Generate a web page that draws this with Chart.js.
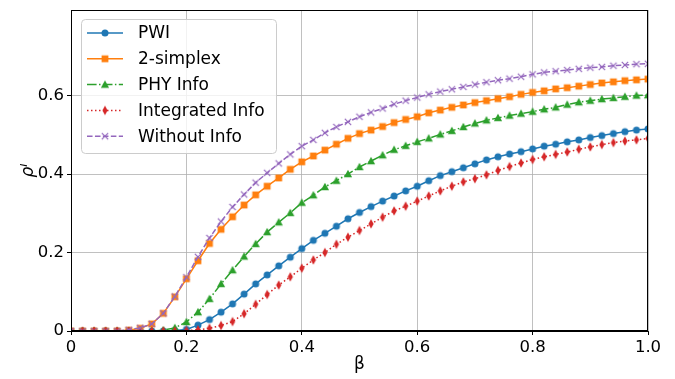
<!DOCTYPE html>
<html><head><meta charset="utf-8">
<script src="https://cdn.jsdelivr.net/npm/chart.js@4/dist/chart.umd.min.js"></script>
<style>html,body{margin:0;padding:0;background:#fff}#wrap{width:675px;height:379px}</style>
</head><body><div id="wrap"><canvas id="c" width="675" height="379"></canvas></div>
<script>
const beta = [0,0.02,0.04,0.06,0.08,0.10,0.12,0.14,0.16,0.18,0.20,0.22,0.24,0.26,0.28,0.30,0.32,0.34,0.36,0.38,0.40,0.42,0.44,0.46,0.48,0.50,0.52,0.54,0.56,0.58,0.60,0.62,0.64,0.66,0.68,0.70,0.72,0.74,0.76,0.78,0.80,0.82,0.84,0.86,0.88,0.90,0.92,0.94,0.96,0.98,1.00];
const pwi = [0,0,0,0,0,0,0,0,0,0.001,0.004,0.015,0.029,0.048,0.069,0.094,0.120,0.143,0.166,0.188,0.210,0.231,0.249,0.267,0.286,0.302,0.317,0.331,0.344,0.357,0.369,0.383,0.396,0.406,0.416,0.426,0.436,0.444,0.451,0.457,0.464,0.471,0.476,0.482,0.487,0.493,0.498,0.503,0.508,0.512,0.515];
const simplex2 = [0,0,0,0,0,0.002,0.007,0.018,0.045,0.087,0.133,0.179,0.223,0.259,0.291,0.321,0.347,0.369,0.390,0.412,0.431,0.446,0.461,0.476,0.491,0.503,0.512,0.521,0.531,0.539,0.546,0.556,0.563,0.570,0.576,0.582,0.587,0.592,0.597,0.603,0.608,0.612,0.617,0.620,0.624,0.628,0.632,0.635,0.638,0.640,0.642];
const phyInfo = [0,0,0,0,0,0,0,0,0.002,0.008,0.023,0.048,0.082,0.120,0.155,0.190,0.222,0.252,0.277,0.301,0.327,0.346,0.367,0.383,0.400,0.418,0.433,0.448,0.462,0.472,0.482,0.491,0.501,0.510,0.520,0.529,0.537,0.543,0.549,0.554,0.559,0.565,0.570,0.577,0.583,0.587,0.591,0.594,0.597,0.600,0.601];
const integratedInfo = [0,0,0,0,0,0,0,0,0,0,0.001,0.003,0.007,0.014,0.024,0.044,0.068,0.093,0.117,0.138,0.160,0.181,0.200,0.221,0.239,0.256,0.273,0.290,0.306,0.318,0.331,0.344,0.357,0.369,0.380,0.388,0.398,0.409,0.419,0.428,0.437,0.444,0.450,0.456,0.463,0.469,0.475,0.480,0.484,0.487,0.491];
const withoutInfo = [0,0,0,0,0,0.003,0.008,0.018,0.045,0.088,0.137,0.189,0.237,0.279,0.316,0.348,0.378,0.403,0.427,0.450,0.471,0.487,0.505,0.520,0.533,0.546,0.557,0.567,0.578,0.587,0.595,0.603,0.610,0.616,0.622,0.628,0.634,0.639,0.643,0.648,0.654,0.659,0.662,0.665,0.668,0.671,0.673,0.676,0.678,0.680,0.681];
const seriesNames = ['PWI','2-simplex','PHY Info','Integrated Info','Without Info'];
const xTickValues = [0,0.2,0.4,0.6,0.8,1.0];
const xTickLabels = ['0','0.2','0.4','0.6','0.8','1.0'];
const yTickValues = [0,0.2,0.4,0.6];
const yTickLabels = ['0','0.2','0.4','0.6'];

const FONT = "'DejaVu Sans', sans-serif";

function markerCanvas(kind, color){
  const c = document.createElement('canvas');
  c.width = 14; c.height = 14;
  const g = c.getContext('2d');
  const cx = 7, cy = 7;
  g.fillStyle = color; g.strokeStyle = color; g.lineWidth = 1;
  g.beginPath();
  if (kind === 'circle'){ g.arc(cx, cy, 3.5, 0, Math.PI*2); g.fill(); }
  else if (kind === 'square'){ g.rect(cx-3.4, cy-3.4, 6.8, 6.8); g.fill(); }
  else if (kind === 'triangle'){ g.moveTo(cx, cy-4.2); g.lineTo(cx+4.1, cy+3.2); g.lineTo(cx-4.1, cy+3.2); g.closePath(); g.fill(); }
  else if (kind === 'thin_diamond'){ g.moveTo(cx, cy-4.8); g.lineTo(cx+2.6, cy); g.lineTo(cx, cy+4.8); g.lineTo(cx-2.6, cy); g.closePath(); g.fill(); }
  else if (kind === 'x'){ g.lineWidth = 1.2; g.moveTo(cx-3.2, cy-3.2); g.lineTo(cx+3.2, cy+3.2); g.moveTo(cx+3.2, cy-3.2); g.lineTo(cx-3.2, cy+3.2); g.stroke(); }
  return c;
}

const colors = ['#1f77b4','#ff7f0e','#2ca02c','#d62728','#9467bd'];
const dashes = [[],[],[9.6,2.4,1.5,2.4],[1.5,2.5],[5.55,2.4]];
const kinds = ['circle','square','triangle','thin_diamond','x'];
const values = [pwi, simplex2, phyInfo, integratedInfo, withoutInfo];
const markers = kinds.map((k,i)=>markerCanvas(k, colors[i]));

const datasets = values.map((vals, i) => ({
  label: seriesNames[i],
  data: beta.map((b, j) => ({x: b, y: vals[j]})),
  borderColor: colors[i],
  backgroundColor: colors[i],
  borderWidth: 1.5,
  borderDash: dashes[i],
  pointStyle: markers[i],
  pointRadius: 4,
  pointHoverRadius: 4,
  tension: 0,
  fill: false,
  clip: 0,
  order: 4 - i
}));

const framePlugin = {
  id: 'frameAndLegend',
  afterDraw(chart){
    const ctx = chart.ctx, a = chart.chartArea;
    ctx.save();
    ctx.strokeStyle = '#000'; ctx.lineWidth = 1;
    ctx.strokeRect(Math.round(a.left)+0.5, Math.round(a.top)+0.5, Math.round(a.right - a.left)-1, Math.round(a.bottom - a.top)-1);
    // legend
    const bx = 81, by = 19, bw = 195, bh = 134;
    ctx.beginPath();
    ctx.roundRect(bx+0.5, by+0.5, bw, bh, 4);
    ctx.fillStyle = 'rgba(255,255,255,0.8)';
    ctx.fill();
    ctx.strokeStyle = '#cccccc'; ctx.lineWidth = 1; ctx.stroke();
    ctx.font = '17px ' + FONT;
    ctx.textBaseline = 'middle'; ctx.textAlign = 'left';
    for (let i = 0; i < seriesNames.length; i++){
      const y = 33 + i * 25.8;
      ctx.beginPath();
      ctx.setLineDash(dashes[i]);
      ctx.strokeStyle = colors[i]; ctx.lineWidth = 1.5;
      ctx.moveTo(87, y); ctx.lineTo(123, y); ctx.stroke();
      ctx.setLineDash([]);
      ctx.drawImage(markers[i], 105 - markers[i].width/2, y - markers[i].height/2);
      ctx.fillStyle = '#000';
      ctx.fillText(seriesNames[i], 138, y + 1);
    }
    ctx.restore();
  }
};

new Chart(document.getElementById('c'), {
  type: 'line',
  data: { datasets },
  options: {
    responsive: false,
    animation: false,
    events: [],
    layout: { padding: { top: 10, right: 27, left: 0, bottom: 0 } },
    plugins: { legend: { display: false }, tooltip: { enabled: false } },
    scales: {
      x: {
        type: 'linear', min: 0, max: 1,
        afterBuildTicks: s => { s.ticks = xTickValues.map(v => ({value: v})); },
        afterFit: s => { s.height = 48; s.paddingLeft = 0; s.paddingRight = 0; },
        ticks: { callback: (v, i) => xTickLabels[i], color: '#000', font: { family: FONT, size: 16.5 }, padding: 3, maxRotation: 0, autoSkip: false },
        grid: { color: '#b0b0b0', lineWidth: 0.8, tickColor: '#000', tickLength: 4, tickWidth: 1 },
        border: { color: '#000', width: 1 },
        title: { display: true, text: 'β', color: '#000', font: { family: FONT, size: 17 }, padding: { top: 0, bottom: 4 } }
      },
      y: {
        type: 'linear', min: 0, max: 0.818,
        afterBuildTicks: s => { s.ticks = yTickValues.map(v => ({value: v})); },
        afterFit: s => { s.width = 71; s.paddingTop = 0; s.paddingBottom = 0; },
        ticks: { callback: (v, i) => yTickLabels[i], color: '#000', font: { family: FONT, size: 16.5 }, padding: 3, autoSkip: false },
        grid: { color: '#b0b0b0', lineWidth: 0.8, tickColor: '#000', tickLength: 4, tickWidth: 1 },
        border: { color: '#000', width: 1 },
        title: { display: true, text: 'ρᴵ', color: '#000', font: { family: FONT, size: 17, style: 'italic' }, padding: { top: 18, bottom: 0 } }
      }
    }
  },
  plugins: [framePlugin]
});
</script></body></html>
